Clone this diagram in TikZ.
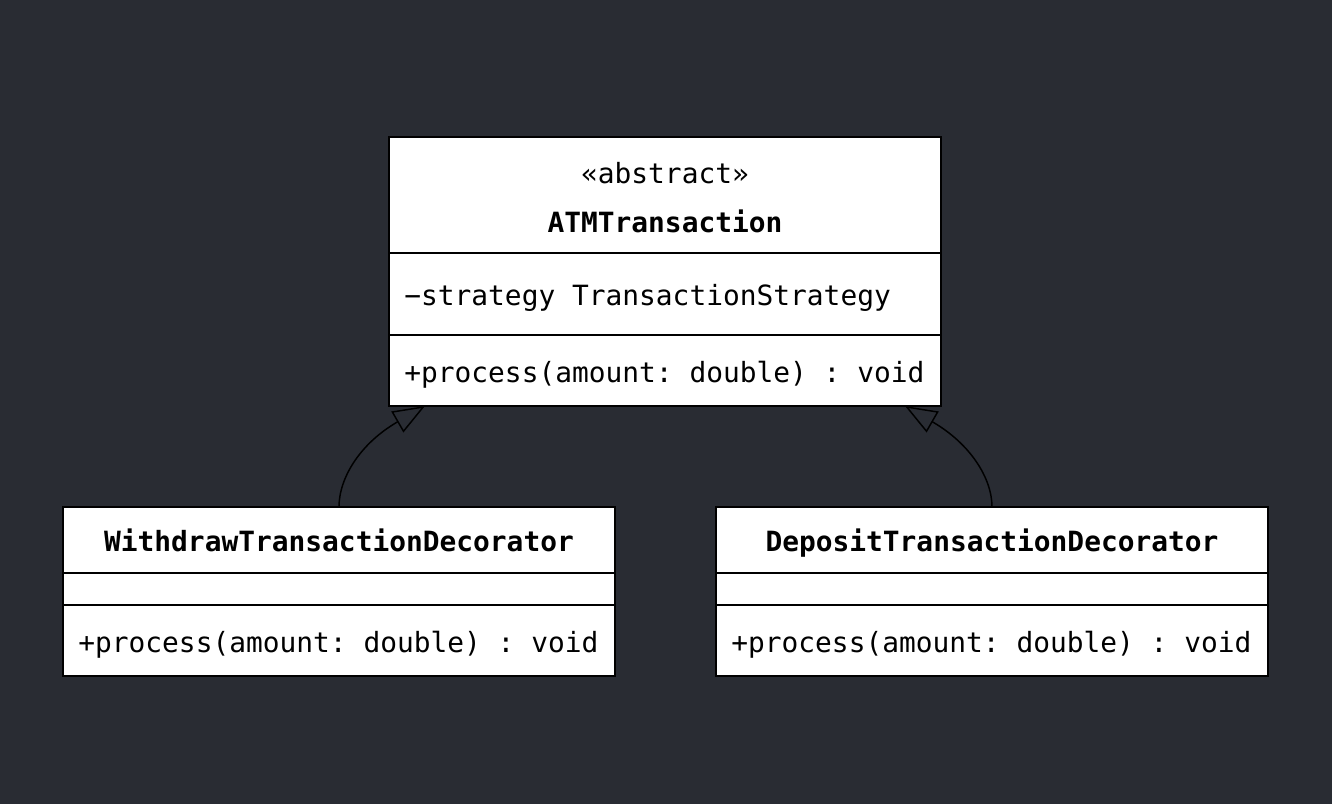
\documentclass[tikz,border=0pt]{standalone}
\usepackage{fontspec}
\newfontfamily\umlfont{DejaVu Sans Mono}[WordSpace={1,0,0}]
\usepackage{tikz}
\usetikzlibrary{positioning}
\usetikzlibrary{arrows.meta}
\definecolor{bgdark}{RGB}{41,44,51}
\newcommand{\fixspaces}{\frenchspacing\spaceskip=0.602em\relax\xspaceskip=\spaceskip}
\tikzset{
    part/.style={draw=black, fill=white, line width=1.1pt, outer sep=0pt,
        minimum width=414pt, text width=391pt, inner xsep=11.5pt, inner ysep=0pt,
        font=\umlfont\fontsize{20.9}{36.75}\selectfont,
        execute at begin node=\fixspaces, anchor=north},
    oneline/.style={text height=17.4pt, text depth=0pt},
    title/.style={part, align=center},
    attrs/.style={part, oneline, align=left},
    extends/.style={line width=1.1pt, -{Triangle[open, length=24pt, width=18pt]}}
}

\begin{document}
\begin{tikzpicture}[x=0.75pt, y=-0.75pt]
    \fill[bgdark] (0,0) rectangle (1332,804);
    \useasboundingbox (0,0) rectangle (1332,804);

    % abstract base class
    \node[title, minimum height=87pt, text height=16pt, text depth=33.75pt] (atm) at (665,137)
        {«abstract»\\\textbf{ATMTransaction}};
    \node[attrs, minimum height=61.5pt, below=0pt of atm] (atmAttr)
        {−strategy TransactionStrategy};
    \node[attrs, minimum height=53.25pt, below=0pt of atmAttr] (atmOps)
        {+process(amount: double) : void};

    % decorators
    \node[title, oneline, minimum height=49.5pt] (wd) at (339,507)
        {\textbf{WithdrawTransactionDecorator}};
    \node[attrs, minimum height=24pt, below=0pt of wd] (wdAttr) {};
    \node[attrs, minimum height=53.25pt, below=0pt of wdAttr] (wdOps)
        {+process(amount: double) : void};

    \node[title, oneline, minimum height=49.5pt] (dp) at (992,507)
        {\textbf{DepositTransactionDecorator}};
    \node[attrs, minimum height=24pt, below=0pt of dp] (dpAttr) {};
    \node[attrs, minimum height=53.25pt, below=0pt of dpAttr] (dpOps)
        {+process(amount: double) : void};

    \draw[extends] (wd.north) to[out=90, in=-150, out distance=22pt, in distance=56pt]
        ([xshift=27pt]atmOps.south west);
    \draw[extends] (dp.north) to[out=90, in=-30, out distance=22pt, in distance=56pt]
        ([xshift=-27pt]atmOps.south east);
\end{tikzpicture}
\end{document}
